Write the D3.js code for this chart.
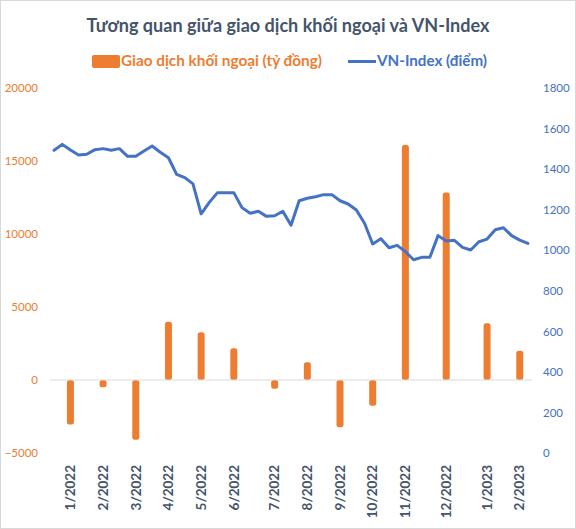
<!DOCTYPE html>
<html>
<head>
<meta charset="utf-8">
<script src="https://cdn.jsdelivr.net/npm/d3@7/dist/d3.min.js"></script>
<style>
  html, body { margin: 0; padding: 0; background: #fff; }
  svg { display: block; font-family: Lato, "Open Sans", sans-serif; }
</style>
</head>
<body>
<svg id="chart" width="576" height="529"></svg>
<script>
// ---- Data (weekly categories, Jan 2022 – Feb 2023) ----
const categories = [
  "", "", "1/2022", "", "", "",
  "2/2022", "", "", "",
  "3/2022", "", "", "",
  "4/2022", "", "", "",
  "5/2022", "", "", "",
  "6/2022", "", "", "", "",
  "7/2022", "", "", "",
  "8/2022", "", "", "",
  "9/2022", "", "", "",
  "10/2022", "", "", "",
  "11/2022", "", "", "", "",
  "12/2022", "", "", "", "",
  "1/2023", "", "", "",
  "2/2023", ""
];
// Giao dịch khối ngoại (tỷ đồng) — monthly net value, shown at month label
const foreignNet = [
  null, null, -3050, null, null, null,
  -500, null, null, null,
  -4100, null, null, null,
  3990, null, null, null,
  3270, null, null, null,
  2170, null, null, null, null,
  -600, null, null, null,
  1210, null, null, null,
  -3240, null, null, null,
  -1760, null, null, null,
  16100, null, null, null, null,
  12850, null, null, null, null,
  3880, null, null, null,
  2010, null
];
// VN-Index (điểm) — weekly
const vnIndex = [
  1493, 1522, 1494, 1470, 1473, 1496,
  1501, 1493, 1501, 1463,
  1463, 1489, 1514, 1483,
  1456, 1374, 1358, 1327,
  1179, 1236, 1284, 1284,
  1284, 1210, 1182, 1192, 1167,
  1170, 1192, 1123, 1244,
  1256, 1264, 1274, 1274,
  1244, 1228, 1198, 1133,
  1031, 1057, 1012, 1024,
  993, 953, 965, 965, 1072,
  1045, 1049, 1014, 1001, 1042,
  1055, 1101, 1111, 1072,
  1050, 1034
];
const leftTicks = [-5000, 0, 5000, 10000, 15000, 20000];
const rightTicks = [0, 200, 400, 600, 800, 1000, 1200, 1400, 1600, 1800];
const titleText = "Tương quan giữa giao dịch khối ngoại và VN-Index";
const legendBar = "Giao dịch khối ngoại (tỷ đồng)";
const legendLine = "VN-Index (điểm)";

// ---- Styles ----
const ORANGE = "#ed7d31";
const BLUE = "#4472c4";
const TEXT = "#44546a";

const svg = d3.select("#chart");

// border
svg.append("rect").attr("x", 0.5).attr("y", 0.5).attr("width", 575).attr("height", 528)
  .attr("fill", "#fff").attr("stroke", "#d9d9d9");

const plot = { left: 50, right: 532, top: 88, bottom: 453 };

const x = d3.scaleBand().domain(d3.range(categories.length)).range([plot.left, plot.right]);
const yL = d3.scaleLinear().domain([-5000, 20000]).range([plot.bottom, plot.top]);
const yR = d3.scaleLinear().domain([0, 1800]).range([plot.bottom, plot.top]);

// title
svg.append("text").attr("x", 288).attr("y", 32).attr("text-anchor", "middle")
  .attr("font-size", 19).attr("font-weight", 700).attr("fill", TEXT)
  .attr("textLength", 403).attr("lengthAdjust", "spacingAndGlyphs")
  .text(titleText);

// legend
const lg = svg.append("g");
lg.append("rect").attr("x", 92).attr("y", 55).attr("width", 28).attr("height", 13).attr("rx", 2)
  .attr("fill", ORANGE);
lg.append("text").attr("x", 121).attr("y", 66).attr("font-size", 14.5).attr("font-weight", 700)
  .attr("fill", ORANGE).attr("textLength", 201).attr("lengthAdjust", "spacingAndGlyphs").text(legendBar);
lg.append("line").attr("x1", 348).attr("x2", 376).attr("y1", 61.5).attr("y2", 61.5)
  .attr("stroke", BLUE).attr("stroke-width", 3);
lg.append("text").attr("x", 377).attr("y", 66).attr("font-size", 14.5).attr("font-weight", 700)
  .attr("fill", BLUE).attr("textLength", 110).attr("lengthAdjust", "spacingAndGlyphs").text(legendLine);

// left axis
const axL = svg.append("g").attr("transform", `translate(${plot.left - 12},0)`)
  .call(d3.axisLeft(yL).tickValues(leftTicks).tickSize(0).tickPadding(0).tickFormat(d3.format("d")));
axL.select(".domain").remove();
axL.selectAll("text").attr("fill", ORANGE).attr("font-size", 11.5).attr("font-family", "Lato, sans-serif");

// right axis
const axR = svg.append("g").attr("transform", `translate(${plot.right + 11},0)`)
  .call(d3.axisRight(yR).tickValues(rightTicks).tickSize(0).tickPadding(0).tickFormat(d3.format("d")));
axR.select(".domain").remove();
axR.selectAll("text").attr("fill", BLUE).attr("font-size", 11.5).attr("font-family", "Lato, sans-serif");

// bars
const barW = 7;
svg.append("g").selectAll("rect")
  .data(foreignNet.map((v, i) => ({ v, i })).filter(d => d.v !== null))
  .join("rect")
  .attr("x", d => x(d.i) + x.bandwidth() / 2 - barW / 2)
  .attr("y", d => Math.min(yL(d.v), yL(0)))
  .attr("width", barW)
  .attr("height", d => Math.abs(yL(d.v) - yL(0)))
  .attr("rx", 2.5)
  .attr("fill", ORANGE);

// zero line
svg.append("line").attr("x1", plot.left).attr("x2", plot.right)
  .attr("y1", yL(0)).attr("y2", yL(0)).attr("stroke", "#d9d9d9").attr("stroke-width", 1);

// x axis labels
const axB = svg.append("g").attr("transform", `translate(0,${plot.bottom + 12})`)
  .call(d3.axisBottom(x).tickSize(0).tickPadding(0).tickFormat(i => categories[i]));
axB.select(".domain").remove();
axB.selectAll("text")
  .attr("transform", "rotate(-90)")
  .attr("x", 0).attr("y", 0).attr("dy", "0.35em")
  .attr("text-anchor", "end")
  .attr("font-size", 13.5).attr("font-weight", 700).attr("fill", TEXT)
  .attr("font-family", "Lato, sans-serif");

// line
const line = d3.line().x((d, i) => x(i) + x.bandwidth() / 2).y(d => yR(d));
svg.append("path").datum(vnIndex).attr("d", line)
  .attr("fill", "none").attr("stroke", BLUE).attr("stroke-width", 3)
  .attr("stroke-linejoin", "round").attr("stroke-linecap", "round");
</script>
</body>
</html>
